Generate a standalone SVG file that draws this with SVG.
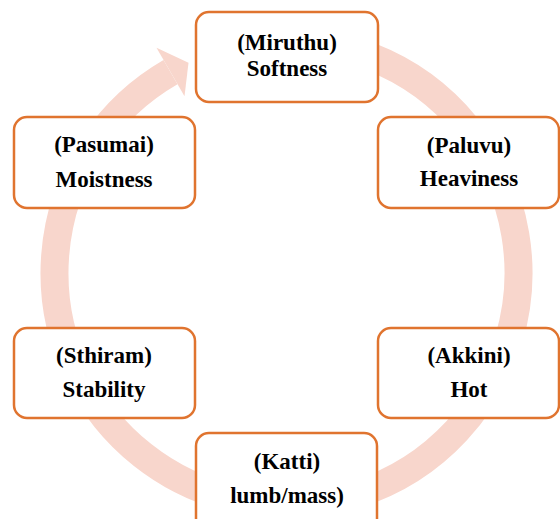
<svg xmlns="http://www.w3.org/2000/svg" width="560" height="519" viewBox="0 0 560 519">
<style>
.box{fill:#fff;stroke:#E0742F;stroke-width:2.5}
.t{font-family:'Liberation Serif','Times New Roman',serif;font-weight:bold;font-size:23px;fill:#000;text-anchor:middle}
.ring{fill:none;stroke:#F8D6CC;stroke-width:28}
</style>
<rect width="560" height="519" fill="#fff"/>
<g id="connectors">
<path class="ring" d="M 266.3 41.9 A 232 232 0 1 1 170.5 72.1"/>
<polygon points="156.5,47.8 188.5,62.7 184.5,96.3" fill="#F8D6CC"/>
</g>
<g id="miruthu">
<rect class="box" x="196" y="12" width="182" height="90" rx="13"/>
<text class="t" x="287" y="50">(Miruthu)</text>
<text class="t" x="287" y="76">Softness</text>
</g>
<g id="paluvu">
<rect class="box" x="378" y="117" width="181" height="91" rx="13"/>
<text class="t" x="469" y="153">(Paluvu)</text>
<text class="t" x="469" y="186">Heaviness</text>
</g>
<g id="akkini">
<rect class="box" x="378" y="328" width="181" height="90" rx="13"/>
<text class="t" x="469" y="363">(Akkini)</text>
<text class="t" x="469" y="397">Hot</text>
</g>
<g id="katti">
<rect class="box" x="196" y="433" width="181" height="100" rx="13"/>
<text class="t" x="287" y="469">(Katti)</text>
<text class="t" x="287" y="503">lumb/mass)</text>
</g>
<g id="sthiram">
<rect class="box" x="14" y="328" width="181" height="90" rx="13"/>
<text class="t" x="104" y="363">(Sthiram)</text>
<text class="t" x="104" y="397">Stability</text>
</g>
<g id="pasumai">
<rect class="box" x="14" y="117" width="181" height="91" rx="13"/>
<text class="t" x="104" y="152">(Pasumai)</text>
<text class="t" x="104" y="187">Moistness</text>
</g>
</svg>
